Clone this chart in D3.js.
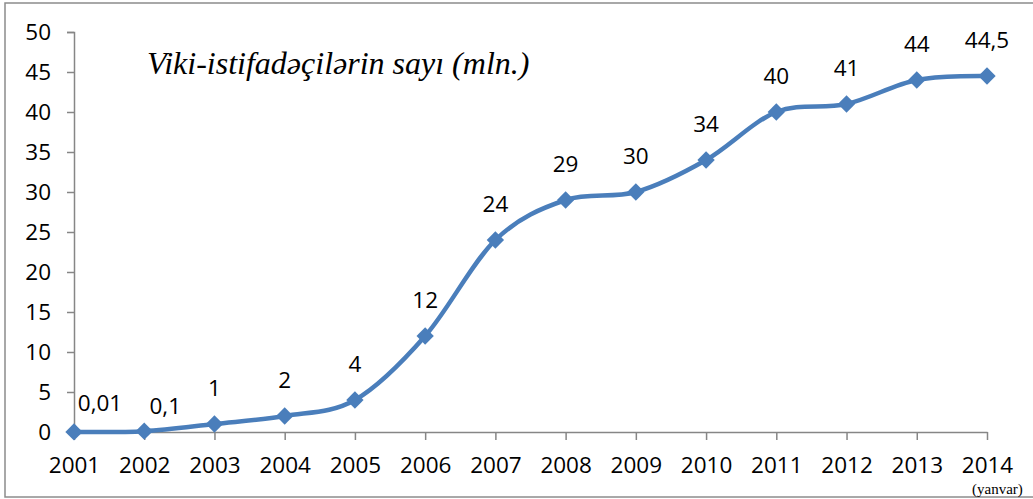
<!DOCTYPE html>
<html>
<head>
<meta charset="utf-8">
<script src="https://cdn.jsdelivr.net/npm/d3@7"></script>
<style>
  body { margin: 0; background: #fff; }
  svg { display: block; }
</style>
</head>
<body>
<div id="chart"></div>
<script>
const years = ["2001", "2002", "2003", "2004", "2005", "2006", "2007", "2008", "2009", "2010", "2011", "2012", "2013", "2014"];
const users = [0.01, 0.1, 1, 2, 4, 12, 24, 29, 30, 34, 40, 41, 44, 44.5];
const valueLabels = ["0,01", "0,1", "1", "2", "4", "12", "24", "29", "30", "34", "40", "41", "44", "44,5"];
const yTicks = [0, 5, 10, 15, 20, 25, 30, 35, 40, 45, 50];

const width = 1033, height = 499;
const blue = "#4a7ebb";
const axisGrey = "#868686";
const font = "'Open Sans', sans-serif";

function drawChart() {
    const svg = d3.create("svg")
        .attr("width", width)
        .attr("height", height);

    svg.append("rect")
        .attr("x", 5).attr("y", 3)
        .attr("width", width + 20).attr("height", 494)
        .attr("fill", "#fff")
        .attr("stroke", "#8c8c8c")
        .attr("stroke-width", 1.5);

    const x = d3.scalePoint()
        .domain(years)
        .range([74, 987]);

    const y = d3.scaleLinear()
        .domain([0, 50])
        .range([432, 32]);

    // y axis
    const yAxis = svg.append("g")
        .attr("transform", "translate(74,0)")
        .call(d3.axisLeft(y).tickValues(yTicks).tickSize(7).tickPadding(16).tickFormat(d3.format("d")));
    yAxis.select(".domain").attr("stroke", axisGrey).attr("stroke-width", 1.5);
    yAxis.selectAll(".tick line").attr("stroke", axisGrey).attr("stroke-width", 1.5);
    yAxis.selectAll(".tick text")
        .attr("fill", "#000")
        .style("font", `22.5px ${font}`);

    // x axis
    const xAxis = svg.append("g")
        .attr("transform", "translate(0,432)")
        .call(d3.axisBottom(x).tickSize(8).tickSizeOuter(0).tickPadding(17));
    xAxis.select(".domain").attr("stroke", axisGrey).attr("stroke-width", 1.5);
    xAxis.selectAll(".tick line").attr("stroke", axisGrey).attr("stroke-width", 1.5);
    xAxis.selectAll(".tick text")
        .attr("fill", "#000")
        .style("font", `22.5px ${font}`);

    svg.append("text")
        .attr("x", 972)
        .attr("y", 494)
        .style("font", "15px 'Liberation Serif', serif")
        .text("(yanvar)");

    // title
    svg.append("text")
        .attr("x", 147)
        .attr("y", 74)
        .style("font", "italic 32px 'Liberation Serif', serif")
        .text("Viki-istifadəçilərin sayı (mln.)");

    const line = d3.line()
        .x((d, i) => x(years[i]))
        .y(d => y(d))
        .curve(d3.curveCardinal.tension(0));

    svg.append("path")
        .datum(users)
        .attr("fill", "none")
        .attr("stroke", blue)
        .attr("stroke-width", 4.5)
        .attr("d", line);

    const diamond = d3.symbol(d3.symbolSquare, 150);
    svg.append("g")
        .selectAll("path")
        .data(users)
        .join("path")
        .attr("d", diamond)
        .attr("fill", blue)
        .attr("transform", (d, i) => `translate(${x(years[i])},${y(d)}) rotate(45)`);

    // the first two labels were nudged right in the original
    const nudge = { 0: [26, 7], 1: [21, 11] };
    svg.append("g")
        .selectAll("text")
        .data(users)
        .join("text")
        .attr("x", (d, i) => x(years[i]) + (nudge[i] ? nudge[i][0] : 0))
        .attr("y", (d, i) => y(d) - 28 + (nudge[i] ? nudge[i][1] : 0))
        .attr("text-anchor", "middle")
        .style("font", `22.5px ${font}`)
        .text((d, i) => valueLabels[i]);

    document.getElementById("chart").appendChild(svg.node());
}

drawChart();
</script>
</body>
</html>
